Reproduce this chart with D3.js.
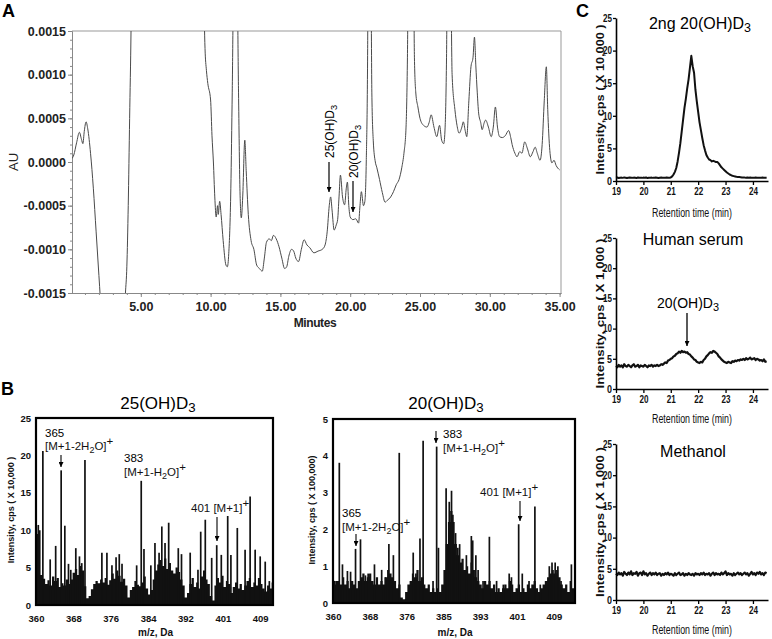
<!DOCTYPE html>
<html><head><meta charset="utf-8">
<script src="https://cdn.jsdelivr.net/npm/d3@7"></script>
<style>
body{margin:0;background:#fff}
svg{display:block}
text{font-family:"Liberation Sans",Arial,sans-serif}
</style>
</head><body><svg id="c" width="772" height="639"></svg>
<script>
// ---------------- Panel A: HPLC chromatogram ----------------
const aTime = [0.0,0.2,0.4,0.6,0.75,0.85,0.95,1.08,1.2,1.4,1.6,1.8,2.0,2.2,2.6,3.2,3.7,3.9,4.0,4.1,4.2,4.3,4.4,5.0,9.0,9.5,9.6,9.7,9.8,10.0,10.1,10.2,10.3,10.4,10.5,10.55,10.65,10.75,10.9,11.1,11.2,11.3,11.45,11.55,11.65,11.9,12.0,12.1,12.2,12.3,12.45,12.55,12.7,12.9,13.1,13.3,13.5,13.7,13.85,14.0,14.2,14.35,14.5,14.7,14.9,15.1,15.3,15.45,15.6,15.8,15.95,16.1,16.3,16.5,16.7,16.9,17.1,17.4,17.7,18.0,18.2,18.35,18.5,18.6,18.7,18.85,19.0,19.1,19.2,19.3,19.45,19.6,19.72,19.8,19.9,20.0,20.2,20.4,20.6,20.7,20.8,20.95,21.05,21.15,21.25,21.3,21.45,21.55,21.65,21.8,21.9,22.1,22.3,22.5,22.65,22.9,23.1,23.3,23.5,23.7,23.85,24.0,24.1,24.2,24.5,24.6,24.7,24.85,25.0,25.25,25.5,25.65,25.8,26.0,26.2,26.4,26.55,26.7,26.8,26.9,27.0,27.15,27.3,27.5,27.65,27.8,28.0,28.1,28.25,28.35,28.5,28.65,28.8,28.9,29.0,29.1,29.2,29.35,29.45,29.6,29.7,29.9,30.1,30.25,30.4,30.55,30.7,30.9,31.1,31.35,31.5,31.6,31.8,31.95,32.15,32.3,32.5,32.7,32.9,33.1,33.25,33.4,33.6,33.75,33.9,34.05,34.15,34.3,34.45,34.6,34.75,35.0];
const aAU = [0.00003,0.00008,0.00022,0.00034,0.00026,0.00021,0.00035,0.00046,0.00038,0.0001,-0.0003,-0.0008,-0.0013,-0.0018,-0.0025,-0.0026,-0.0021,-0.0015,-0.0012,-0.0005,0.0005,0.0015,0.003,0.005,0.005,0.002,0.0013,0.00105,0.0009,0.00071,0.0003,0.0,-0.0004,-0.00063,-0.0005,-0.0006,-0.00045,-0.0006,-0.0009,-0.00118,-0.0012,-0.00105,-0.0003,0.0008,0.002,0.002,0.0008,-0.0003,-0.00064,-0.0004,0.00025,-0.0001,-0.0006,-0.0009,-0.001,-0.00118,-0.00122,-0.00125,-0.0011,-0.00092,-0.00088,-0.0009,-0.00084,-0.00088,-0.00097,-0.0011,-0.00122,-0.0012,-0.00108,-0.001,-0.00102,-0.0011,-0.00114,-0.001,-0.00089,-0.00095,-0.00098,-0.00104,-0.00102,-0.001,-0.00095,-0.0008,-0.0005,-0.0004,-0.00055,-0.00078,-0.00072,-0.00066,-0.0004,-0.00015,-0.0004,-0.00049,-0.0003,-0.00023,-0.0005,-0.00063,-0.00066,-0.00065,-0.0007,-0.0005,-0.00034,-0.0005,-0.00045,0.0,0.0013,0.003,0.003,0.0008,0.00025,0.0,-0.00006,-0.0002,-0.00035,-0.00046,-0.00044,-0.0004,-0.00034,-0.00026,-0.0002,-0.00006,0.0001,0.0004,0.0012,0.003,0.003,0.0012,0.00079,0.00063,0.0005,0.00042,0.0004,0.00045,0.00054,0.0004,0.00029,0.00042,0.00025,0.00021,0.0004,0.0012,0.003,0.003,0.001,0.0006,0.00042,0.00033,0.0004,0.00046,0.00035,0.00029,0.0007,0.00109,0.0012,0.00143,0.0011,0.0008,0.00056,0.00045,0.00037,0.00045,0.00048,0.0004,0.00029,0.0004,0.00063,0.0004,0.00029,0.00028,0.0003,0.00036,0.00028,0.0002,0.0001,0.00006,0.00012,0.0001,0.00023,0.00015,0.00006,0.00012,0.00017,0.0001,0.00002,0.0002,0.0007,0.00109,0.0006,0.00013,-0.00001,0.00002,-0.00004,-0.00009];
const aYTicks = [-0.0015,-0.001,-0.0005,0,0.0005,0.001,0.0015];
const aXTicks = [5,10,15,20,25,30,35];

// ---------------- Panel B: mass spectra ----------------
const bTickPos = [360,368.17,376.33,384.5,392.67,400.83,409];
const bTickLabelsL = ["360","368","376","384","392","401","409"];
const bTickLabelsR = ["360","368","376","385","393","401","409"];
const bYTicksL = [0,5,10,15,20,25];
const bYTicksR = [0,1,2,3,4,5];
const bgStart = 360, bgStep = 0.5;
const bgLeft = [9.5,10,4,3.5,2.8,3.3,2.6,3.8,3.2,3.6,2.4,2.9,2.6,3.4,2.8,3.4,4.3,4.8,4.0,5.2,4.6,2.5,0.9,1.2,2.1,2.8,3.2,2.9,3.4,3.0,3.6,2.7,3.3,4.2,3.5,4.6,3.9,3.1,3.5,2.6,1.0,2.0,2.4,3.2,2.7,2.5,3.0,3.8,2.2,1.4,2.0,3.4,4.6,5.4,6.0,5.2,6.2,4.8,5.6,4.6,4.2,5.0,4.4,3.4,2.6,1.0,1.6,2.8,3.6,2.4,3.0,2.2,3.8,4.6,3.4,2.8,1.2,0.6,2.6,3.6,3.0,3.9,2.4,3.2,2.8,1.6,2.4,3.0,2.2,2.8,2.0,2.6,3.2,3.6,2.4,3.0,2.6,3.6,2.8,2.2,1.8,2.6,2.2,3.0];
const peakMzLeft = [360.0,360.5,361.5,363.1,364.3,365.5,366.3,367.1,367.6,368.7,369.5,370.0,370.7,374.4,375.5,376.6,377.5,378.2,378.8,382.0,383.0,383.6,385.1,386.0,386.9,387.5,388.2,389.0,391.1,391.8,393.7,395.4,396.0,397.0,398.4,399.5,400.5,401.9,402.6,404.0,405.7,406.8,407.9,409.0,410.1,411.0];
const peakIntLeft = [9.7,10.7,20.6,6.1,7.9,18.0,10.6,5.5,4.7,7.6,6.5,5.6,19.4,7.0,7.0,5.3,6.4,6.8,5.5,5.3,16.6,7.5,5.3,8.3,7.0,10.5,8.3,11.0,7.6,6.8,7.0,4.7,9.8,11.4,6.3,8.0,6.7,11.9,6.7,10.3,7.4,14.5,7.4,6.5,5.8,3.2];
const bgRight = [0.5,0.6,0.6,0.5,0.7,0.5,0.6,0.4,0.6,0.5,0.4,0.6,0.7,0.8,0.6,0.7,0.8,0.6,0.5,0.7,0.5,0.6,0.5,0.7,0.9,0.8,0.7,0.6,0.4,0.5,0.15,0.1,0.3,0.5,0.6,0.8,0.7,0.9,0.6,0.7,0.5,0.4,0.5,0.3,0.4,0.3,0.4,0.3,0.5,0.9,1.6,2.2,2.5,2.2,1.6,1.3,1.1,1.2,0.9,1.0,0.8,1.1,0.9,0.7,0.6,0.5,0.4,0.6,0.5,0.6,0.4,0.5,0.3,0.4,0.3,0.4,0.5,0.4,0.6,0.5,0.3,0.4,0.5,0.3,0.4,0.3,0.5,0.4,0.5,0.6,0.4,0.3,0.4,0.5,0.6,0.7,0.8,0.9,0.8,0.9,0.7,0.5,0.4,0.5,0.3,0.6,0.4,0.3];
const peakMzRight = [360.3,361.4,362.1,363.2,363.9,365.0,366.1,367.2,367.8,369.2,370.8,371.6,372.4,373.4,374.7,377.8,378.4,379.3,380.0,382.2,383.0,383.4,385.1,385.8,386.3,386.6,387.2,387.7,388.1,389.6,390.7,391.0,391.7,392.2,393.3,394.7,396.3,397.8,399.1,399.6,401.2,402.0,403.5,404.8,406.0,408.0,408.6,409.3,409.9,410.6,412.9];
const peakIntRight = [0.6,3.81,1.05,0.87,0.85,1.47,1.73,0.75,0.8,1.05,0.9,0.7,1.6,1.3,4.08,1.37,0.8,1.75,4.41,0.6,4.25,1.5,3.12,2.75,3.05,2.4,1.9,1.5,1.6,1.3,1.82,1.7,1.3,0.9,0.6,1.8,0.6,0.5,0.8,0.7,2.14,0.8,0.6,2.62,0.5,1.0,1.1,1.1,1.0,0.6,1.05];

// ---------------- Panel C: SRM chromatograms ----------------
const cStart = 19, cStep = 0.05;
const cXTicks = [19,20,21,22,23,24];
const cYTicks = [0,5,10,15,20,25];
const cStandard = [0.5,0.55,0.45,0.5,0.52,0.48,0.55,0.5,0.45,0.5,0.55,0.5,0.48,0.52,0.5,0.45,0.55,0.5,0.5,0.48,0.52,0.5,0.55,0.45,0.5,0.5,0.52,0.48,0.5,0.55,0.5,0.45,0.5,0.52,0.5,0.48,0.5,0.55,0.5,0.5,0.55,
 0.7,1.0,1.4,2.0,3.0,4.3,5.8,7.6,9.4,11.2,12.6,14.2,15.6,17.4,19.2,17.6,16.6,14.0,12.2,10.6,9.0,7.8,6.6,5.5,4.7,4.0,3.6,3.3,3.2,3.0,3.1,3.0,2.9,2.9,2.7,2.4,2.1,1.9,1.7,1.5,1.3,1.15,1.0,0.9,0.8,0.75,0.7,0.65,0.62,0.6,
 0.58,0.55,0.55,0.52,0.5,0.55,0.5,0.52,0.5,0.48,0.5,0.52,0.5,0.5,0.48,0.5,0.52,0.5,0.5,0.5];
const cSerum = [3.8,3.6,4.0,3.7,3.9,3.6,4.1,3.8,3.7,4.0, 3.8,3.6,3.9,4.1,3.7,3.8,4.0,3.6,3.9,3.8, 3.7,4.0,3.8,3.6,3.9,3.8,4.0,3.7,3.9,3.8, 4.0,3.8,3.9,4.1,4.0,4.2,4.4,4.3,4.7,4.8, 5.0,5.1,5.4,5.5,5.8,5.9,6.2,6.0,6.3,6.1, 6.2,6.0,6.1,5.8,5.7,5.4,5.2,4.9,4.8,4.5, 4.4,4.3,4.5,4.4,4.8,5.0,5.4,5.6,5.9,6.1, 6.0,6.3,6.2,6.0,5.8,5.4,5.2,4.9,4.7,4.5, 4.4,4.3,4.5,4.4,4.3,4.6,4.5,4.7,4.6,4.8, 4.7,4.9,4.8,5.0,4.8,5.1,4.9,5.0,5.2,4.9, 5.0,5.1,4.8,5.0,4.9,4.7,4.8,4.6,4.9,4.5, 4.6];
const cMethanol = [4.2,4.0,4.4,4.1,4.3,3.9,4.5,4.2,4.0,4.4, 4.1,4.6,4.0,4.3,4.2,4.5,3.9,4.3,4.4,4.0, 4.6,4.1,4.3,3.9,4.2,4.4,4.0,4.3,4.1,4.4, 4.0,4.2,4.3,3.9,4.2,4.0,4.3,4.1,4.4,4.0, 4.2,4.1,3.9,4.3,4.0,4.2,4.4,4.0,4.1,4.3, 3.9,4.2,4.0,4.3,4.1,4.0,4.2,3.9,4.3,4.1, 4.2,4.0,4.3,4.1,4.4,4.0,4.2,4.1,4.3,3.9, 4.2,4.4,4.0,4.3,4.1,4.2,4.0,4.4,4.1,4.3, 4.6,4.0,4.3,4.1,4.2,3.9,4.3,4.0,4.2,4.4, 4.1,4.3,4.0,4.2,4.4,4.1,4.3,3.9,4.2,4.5, 4.1,4.3,4.0,4.4,4.2,4.5,4.1,4.3,4.0,4.4, 4.3];

// ================= drawing =================
const svg = d3.select("#c");
const defs = svg.append("defs");
defs.append("marker").attr("id","arr").attr("viewBox","0 0 10 10").attr("refX",10).attr("refY",5)
  .attr("markerWidth",5).attr("markerHeight",5).attr("markerUnits","userSpaceOnUse").attr("orient","auto")
  .append("path").attr("d","M0,0L10,5L0,10Z").attr("fill","#000");

function rich(g, x, y, parts, attrs) {
  const t = g.append("text").attr("x", x).attr("y", y);
  Object.entries(attrs || {}).forEach(([k, v]) => t.attr(k, v));
  let shift = 0;
  parts.forEach(p => {
    const ts = t.append("tspan").text(p.t);
    const target = p.sub ? 2.5 : p.sup ? -5 : 0;
    if (target - shift !== 0) ts.attr("dy", target - shift);
    shift = target;
    if (p.sub) ts.attr("font-size", "78%");
  });
  return t;
}
function arrow(g, x, y1, y2, w) {
  g.append("line").attr("x1", x).attr("x2", x).attr("y1", y1).attr("y2", y2)
    .attr("stroke", "#000").attr("stroke-width", w || 1.2).attr("marker-end", "url(#arr)");
}
const D3parts = (pre) => [{t: pre + "(OH)D"}, {t: "3", sub: true}];

// ---- Panel A ----
const gA = svg.append("g");
const xA = d3.scaleLinear().domain([0, 35.1]).range([71, 561]);
const yA = d3.scaleLinear().domain([-0.0015, 0.0015]).range([293, 31]);
defs.append("clipPath").attr("id", "clipA").append("rect").attr("x", 72).attr("y", 31).attr("width", 489).attr("height", 262);
gA.append("line").attr("x1", 72).attr("x2", 561).attr("y1", 31).attr("y2", 31).attr("stroke", "#999");
gA.append("line").attr("x1", 561).attr("x2", 561).attr("y1", 31).attr("y2", 293).attr("stroke", "#999");
const fmtA = d => (d < 0 ? "-" : "") + Math.abs(d).toFixed(4);
const axYA = gA.append("g").attr("transform", "translate(72,0)")
  .call(d3.axisLeft(yA).tickValues(aYTicks).tickFormat(fmtA).tickSize(4).tickSizeOuter(0).tickPadding(2));
gA.append("g").attr("transform", "translate(72,0)")
  .call(d3.axisLeft(yA).tickValues(d3.range(-15, 16).map(v => v / 10000)).tickFormat("").tickSize(2).tickSizeOuter(0));
const axXA = gA.append("g").attr("transform", "translate(0,293)")
  .call(d3.axisBottom(xA).tickValues(aXTicks).tickFormat(d => d.toFixed(2)).tickSize(4).tickSizeOuter(0));
gA.append("g").attr("transform", "translate(0,293)")
  .call(d3.axisBottom(xA).tickValues(d3.range(1, 36)).tickFormat("").tickSize(2).tickSizeOuter(0));
gA.selectAll(".domain,.tick line").attr("stroke", "#888");
axYA.selectAll("text").attr("font-size", "12.5px").attr("font-weight", "bold").attr("fill", "#222").attr("font-family", "Liberation Sans, Arial");
axXA.selectAll("text").attr("font-size", "12.5px").attr("font-weight", "bold").attr("fill", "#222").attr("y", 9).attr("font-family", "Liberation Sans, Arial");
gA.append("path").datum(aTime.map((t, i) => [t, aAU[i]]))
  .attr("clip-path", "url(#clipA)")
  .attr("fill", "none").attr("stroke", "#4a4a4a").attr("stroke-width", 1)
  .attr("d", d3.line().x(d => xA(d[0])).y(d => yA(d[1])).curve(d3.curveMonotoneX));
svg.append("text").attr("x", 2).attr("y", 17).text("A").attr("font-weight", "bold").attr("font-size", "18px");
svg.append("text").attr("transform", "translate(18,162) rotate(-90)").attr("text-anchor", "middle").attr("font-size", "13px").text("AU").attr("fill", "#222");
svg.append("text").attr("x", 315).attr("y", 327).attr("text-anchor", "middle").attr("font-size", "12px").attr("font-weight", "bold").attr("letter-spacing", "-0.4").text("Minutes").attr("fill", "#222");
rich(gA, 0, 0, D3parts("25"), {transform: "translate(334,158) rotate(-90)", "font-size": "12px"});
rich(gA, 0, 0, D3parts("20"), {transform: "translate(358,178) rotate(-90)", "font-size": "12px"});
arrow(gA, 329, 162, 192);
arrow(gA, 353, 181, 212);

// ---- Panel B ----
function spectrum(cfg) {
  const g = svg.append("g");
  const x = d3.scaleLinear().domain(cfg.xDomain).range([cfg.left, cfg.right]);
  const y = d3.scaleLinear().domain(cfg.yDomain).range([cfg.bottom, cfg.top]);
  const bg = cfg.bg.map((v, i) => [bgStart + i * bgStep, v]);
  bg.push([cfg.xDomain[1], cfg.bg[cfg.bg.length - 1]]);
  g.append("path").datum(bg).attr("fill", "#111")
    .attr("d", d3.area().x(d => x(d[0])).y0(y(0)).y1(d => y(d[1])).curve(d3.curveStepAfter));
  g.selectAll("line.pk").data(cfg.pmz).join("line").attr("class", "pk")
    .attr("x1", d => x(d)).attr("x2", d => x(d))
    .attr("y1", y(0)).attr("y2", (d, i) => y(cfg.pint[i]))
    .attr("stroke", "#111").attr("stroke-width", 1.7);
  g.append("rect").attr("x", cfg.left).attr("y", cfg.top).attr("width", cfg.right - cfg.left).attr("height", cfg.bottom - cfg.top)
    .attr("fill", "none").attr("stroke", "#000").attr("stroke-width", 2.2);
  g.append("g").attr("transform", `translate(${cfg.left},0)`)
    .call(d3.axisLeft(y).tickValues(cfg.yTicks).tickFormat(d3.format("d")).tickSize(0).tickPadding(5));
  g.append("g").attr("transform", `translate(0,${cfg.bottom})`)
    .call(d3.axisBottom(x).tickValues(bTickPos).tickFormat((d, i) => cfg.xLabels[i]).tickSize(0).tickPadding(10));
  g.selectAll(".domain").remove();
  g.selectAll(".tick text").attr("font-size", "9.5px").attr("font-weight", "bold").attr("fill", "#111").attr("font-family", "Liberation Sans, Arial");
  g.append("text").attr("transform", `translate(${cfg.ylabX},510) rotate(-90)`).attr("text-anchor", "middle")
    .attr("font-size", "9px").attr("font-weight", "bold").text(cfg.yLabel).attr("fill", "#111");
  g.append("text").attr("x", (cfg.left + cfg.right) / 2 + 1).attr("y", 636).attr("text-anchor", "middle")
    .attr("font-size", "10px").attr("font-weight", "bold").text("m/z, Da").attr("fill", "#111");
  rich(g, cfg.titleX, 409, D3parts(cfg.titlePre), {"text-anchor": "middle", "font-size": "17px"});
  return g;
}
const gBL = spectrum({xDomain: [360, 411.8], left: 36, right: 273, top: 418, bottom: 605, yDomain: [0, 25],
  yTicks: bYTicksL, bg: bgLeft, pmz: peakMzLeft, pint: peakIntLeft, xLabels: bTickLabelsL,
  yLabel: "Intensity, cps ( X 10,000 )", ylabX: 14, titleX: 158, titlePre: "25"});
const gBR = spectrum({xDomain: [360, 413.7], left: 333, right: 575, top: 419, bottom: 603, yDomain: [0, 5],
  yTicks: bYTicksR, bg: bgRight, pmz: peakMzRight, pint: peakIntRight, xLabels: bTickLabelsR,
  yLabel: "Intensity, cps ( X 100,000)", ylabX: 315, titleX: 446, titlePre: "20"});
svg.append("text").attr("x", 1).attr("y", 395).text("B").attr("font-weight", "bold").attr("font-size", "18px");
const annF = {"font-size": "11.5px", fill: "#111"};
gBL.append("text").attr("x", 45).attr("y", 437).text("365").attr("font-size", "11.5px");
rich(gBL, 45, 450, [{t: "[M+1-2H"}, {t: "2", sub: true}, {t: "O]"}, {t: "+", sup: true}], annF);
arrow(gBL, 61, 455, 467, 1.1);
gBL.append("text").attr("x", 124).attr("y", 462).text("383").attr("font-size", "11.5px");
rich(gBL, 124, 476, [{t: "[M+1-H"}, {t: "2", sub: true}, {t: "O]"}, {t: "+", sup: true}], annF);
rich(gBL, 191, 512, [{t: "401 [M+1]"}, {t: "+", sup: true}], annF);
arrow(gBL, 217, 517, 541, 1.1);
gBR.append("text").attr("x", 342).attr("y", 517).text("365").attr("font-size", "11.5px");
rich(gBR, 342, 531, [{t: "[M+1-2H"}, {t: "2", sub: true}, {t: "O]"}, {t: "+", sup: true}], annF);
arrow(gBR, 356, 534, 546, 1.1);
gBR.append("text").attr("x", 443).attr("y", 438).text("383").attr("font-size", "11.5px");
rich(gBR, 443, 452, [{t: "[M+1-H"}, {t: "2", sub: true}, {t: "O]"}, {t: "+", sup: true}], annF);
arrow(gBR, 436, 431, 443, 1.1);
rich(gBR, 480, 496, [{t: "401 [M+1]"}, {t: "+", sup: true}], annF);
arrow(gBR, 520, 501, 521, 1.1);

// ---- Panel C ----
const xC = d3.scaleLinear().domain([19, 24.55]).range([616, 768]);
function chrom(cfg) {
  const g = svg.append("g");
  const y = d3.scaleLinear().domain([0, 25]).range([cfg.bottom, cfg.top]);
  g.append("path").datum(cfg.data.map((v, i) => [cStart + i * cStep, v]))
    .attr("fill", "none").attr("stroke", "#111").attr("stroke-width", cfg.sw).attr("stroke-linejoin", "round")
    .attr("d", d3.line().x(d => xC(d[0])).y(d => y(d[1])));
  const ay = g.append("g").attr("transform", "translate(616,0)")
    .call(d3.axisLeft(y).tickValues(cYTicks).tickFormat(d3.format("d")).tickSize(3).tickSizeOuter(0).tickPadding(1));
  const ax = g.append("g").attr("transform", `translate(0,${cfg.bottom})`)
    .call(d3.axisBottom(xC).tickValues(cXTicks).tickFormat(d3.format("d")).tickSize(4).tickSizeOuter(0).tickPadding(3));
  g.selectAll(".domain").attr("stroke", "#000").attr("stroke-width", 1.6);
  g.selectAll(".tick line").attr("stroke", "#000").attr("stroke-width", 1.3);
  g.selectAll(".tick text").attr("font-size", "10.5px").attr("font-weight", "bold").attr("fill", "#111")
    .attr("font-family", "Liberation Sans Narrow, Liberation Sans, Arial");
  ay.selectAll(".tick text").attr("textLength", d => d < 10 ? 5 : 9).attr("lengthAdjust", "spacingAndGlyphs");
  ax.selectAll(".tick text").attr("textLength", 9).attr("lengthAdjust", "spacingAndGlyphs");
  g.append("text").attr("transform", `translate(604,${(cfg.top + cfg.bottom) / 2}) rotate(-90)`).attr("text-anchor", "middle")
    .attr("font-size", "11px").attr("font-weight", "bold").attr("textLength", 150).attr("lengthAdjust", "spacingAndGlyphs")
    .text(cfg.yLabel).attr("fill", "#111");
  g.append("text").attr("x", 692).attr("y", cfg.xlabY).attr("text-anchor", "middle").attr("font-size", "12px")
    .attr("font-family", "Liberation Sans Narrow, Liberation Sans, Arial")
    .attr("textLength", 80).attr("lengthAdjust", "spacingAndGlyphs").text("Retention time (min)").attr("fill", "#111");
  return {g, y};
}
const c1 = chrom({data: cStandard, top: 18, bottom: 181, sw: 2, yLabel: "Intensity, cps ( X 10,000 )", xlabY: 217});
const c2 = chrom({data: cSerum, top: 238, bottom: 389, sw: 2.2, yLabel: "Intensity, cps ( X 1,000 )", xlabY: 423});
const c3 = chrom({data: cMethanol, top: 444, bottom: 600, sw: 2.2, yLabel: "Intensity, cps ( X 1,000 )", xlabY: 634});
rich(c1.g, 700, 29, [{t: "2ng 20(OH)D"}, {t: "3", sub: true}], {"text-anchor": "middle", "font-size": "16px"});
c2.g.append("text").attr("x", 693).attr("y", 245).attr("text-anchor", "middle").attr("font-size", "16px").text("Human serum");
c3.g.append("text").attr("x", 693).attr("y", 457).attr("text-anchor", "middle").attr("font-size", "16px").text("Methanol");
rich(c2.g, 688, 308, D3parts("20"), {"text-anchor": "middle", "font-size": "14px"});
arrow(c2.g, 687, 313, 346, 1.3);
svg.append("text").attr("x", 576).attr("y", 17).text("C").attr("font-weight", "bold").attr("font-size", "18px");
</script>
</body></html>
